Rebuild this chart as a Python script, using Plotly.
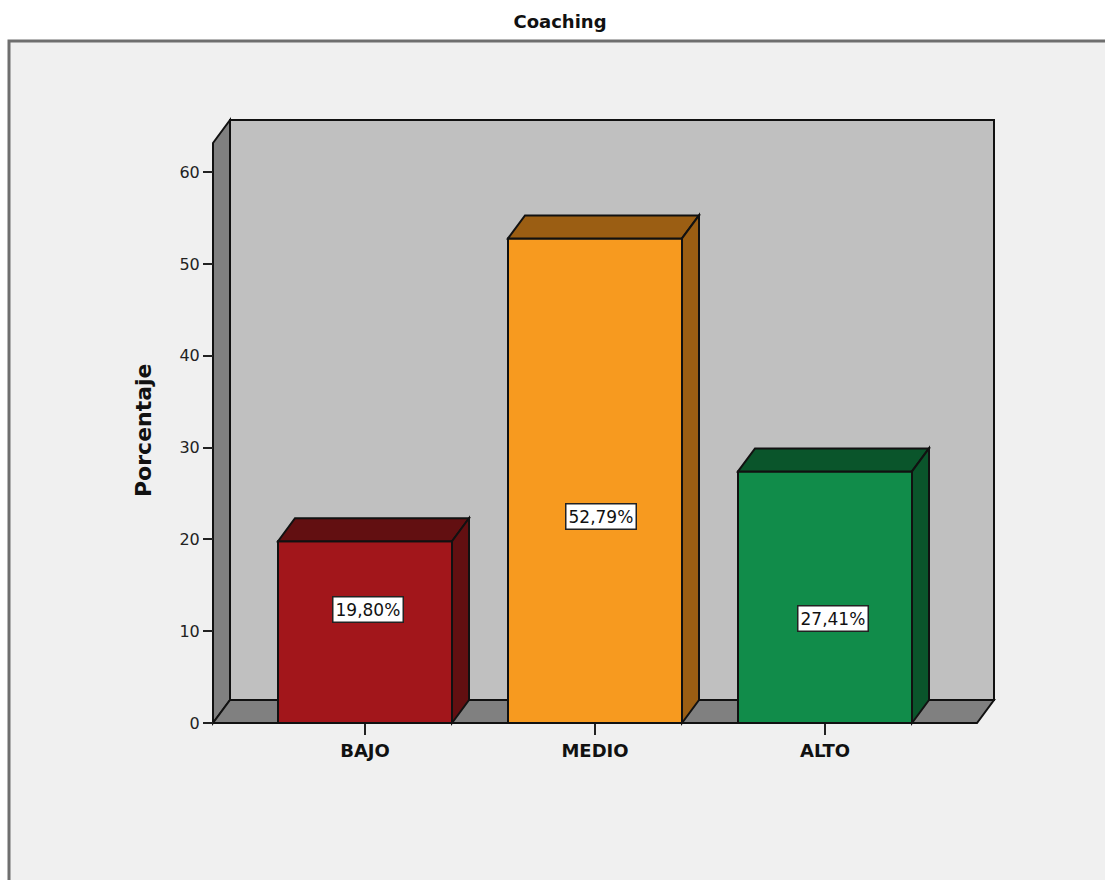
import plotly.graph_objects as go

# Data
categories = ["BAJO", "MEDIO", "ALTO"]
percentages = [19.80, 52.79, 27.41]
front_colors = ["#a2161b", "#f79a1f", "#118c4a"]
side_colors = ["#620f11", "#9b5e13", "#0a552b"]
y_ticks = [0, 10, 20, 30, 40, 50, 60]

# Pixel geometry of the 3D box (figure pixels)
W, H = 1105, 880
PX_X = 230.0          # pixels per category step
PX_Y = 9.18           # pixels per percent
X0_PX, Y0_PX = 365.0, 723.0   # first category centre / zero line
PLOT_L, PLOT_R, PLOT_T, PLOT_B = 200, 1000, 115, 730


def dx(px):
    return (px - X0_PX) / PX_X


def dy(py):
    return (Y0_PX - py) / PX_Y


DEPTH_X = 17 / PX_X
DEPTH_Y = 23 / PX_Y
HALF_W = 87 / PX_X
WALL_L = dx(213)
WALL_R = dx(977)
WALL_TOP = dy(120)

xr = [dx(PLOT_L), dx(PLOT_R)]
yr = [dy(PLOT_B), dy(PLOT_T)]
plot_w = PLOT_R - PLOT_L
plot_h = PLOT_B - PLOT_T


def poly(pts):
    return "M " + " L ".join(f"{x},{y}" for x, y in pts) + " Z"


EDGE = dict(color="#111111", width=2)
shapes = []

# outer frame
shapes.append(dict(
    type="rect", xref="paper", yref="paper", layer="below",
    x0=(9 - PLOT_L) / plot_w, x1=(1120 - PLOT_L) / plot_w,
    y0=(PLOT_B - 900) / plot_h, y1=(PLOT_B - 41) / plot_h,
    fillcolor="#f0f0f0", line=dict(color="#6f6f6f", width=3),
))

# back wall
shapes.append(dict(
    type="path", xref="x", yref="y", layer="below",
    path=poly([(WALL_L + DEPTH_X, DEPTH_Y), (WALL_L + DEPTH_X, WALL_TOP),
               (WALL_R + DEPTH_X, WALL_TOP), (WALL_R + DEPTH_X, DEPTH_Y)]),
    fillcolor="#c0c0c0", line=EDGE,
))
# left wall
shapes.append(dict(
    type="path", xref="x", yref="y", layer="below",
    path=poly([(WALL_L, 0), (WALL_L, WALL_TOP - DEPTH_Y),
               (WALL_L + DEPTH_X, WALL_TOP), (WALL_L + DEPTH_X, DEPTH_Y)]),
    fillcolor="#808080", line=EDGE,
))
# floor
shapes.append(dict(
    type="path", xref="x", yref="y", layer="below",
    path=poly([(WALL_L, 0), (WALL_R, 0),
               (WALL_R + DEPTH_X, DEPTH_Y), (WALL_L + DEPTH_X, DEPTH_Y)]),
    fillcolor="#808080", line=EDGE,
))

# top and side faces of each bar
for i, v in enumerate(percentages):
    x0, x1 = i - HALF_W, i + HALF_W
    shapes.append(dict(
        type="path", xref="x", yref="y", layer="above",
        path=poly([(x0, v), (x0 + DEPTH_X, v + DEPTH_Y),
                   (x1 + DEPTH_X, v + DEPTH_Y), (x1, v)]),
        fillcolor=side_colors[i], line=EDGE,
    ))
    shapes.append(dict(
        type="path", xref="x", yref="y", layer="above",
        path=poly([(x1, 0), (x1, v), (x1 + DEPTH_X, v + DEPTH_Y),
                   (x1 + DEPTH_X, DEPTH_Y)]),
        fillcolor=side_colors[i], line=EDGE,
    ))

fig = go.Figure(go.Bar(
    x=list(range(len(categories))), y=percentages, width=2 * HALF_W,
    marker=dict(color=front_colors, line=EDGE),
    hoverinfo="skip",
))

# value labels
label_px_shift = [3, 6, 8]
label_py = [609, 516, 618]
annotations = []
for i, v in enumerate(percentages):
    annotations.append(dict(
        x=i + label_px_shift[i] / PX_X, y=dy(label_py[i]), xref="x", yref="y",
        text=f"{v:.2f}".replace(".", ",") + "%", showarrow=False,
        font=dict(family="DejaVu Sans", size=17, color="#111111"),
        bgcolor="#ffffff", bordercolor="#222222", borderwidth=1.5, borderpad=2,
        xanchor="center", yanchor="middle",
    ))

# y axis title
annotations.append(dict(
    x=(143 - PLOT_L) / plot_w, y=(PLOT_B - 430) / plot_h,
    xref="paper", yref="paper", text="Porcentaje", textangle=-90,
    showarrow=False, xanchor="center", yanchor="middle",
    font=dict(family="DejaVu Sans", size=22, color="#111111", weight="bold"),
))

fig.update_layout(
    width=W, height=H,
    margin=dict(l=PLOT_L, r=W - PLOT_R, t=PLOT_T, b=H - PLOT_B, pad=0),
    paper_bgcolor="#ffffff", plot_bgcolor="rgba(0,0,0,0)",
    showlegend=False,
    title=dict(
        text="Coaching", x=560 / W, y=1 - 22 / H, xanchor="center", yanchor="middle",
        font=dict(family="DejaVu Sans", size=18, color="#111111", weight="bold"),
    ),
    xaxis=dict(
        range=xr, tickvals=list(range(len(categories))), ticktext=categories,
        ticks="outside", ticklen=11, tickwidth=1.5, tickcolor="#222222",
        showgrid=False, zeroline=False, showline=False,
        anchor="free", position=(PLOT_B - Y0_PX) / plot_h,
        tickfont=dict(family="DejaVu Sans", size=18, color="#111111", weight="bold"),
        fixedrange=True,
    ),
    yaxis=dict(
        range=yr, tickvals=y_ticks, ticks="outside", ticklen=10, tickwidth=1.5,
        tickcolor="#222222", showgrid=False, zeroline=False, showline=False,
        anchor="free", position=(213 - PLOT_L) / plot_w,
        tickfont=dict(family="DejaVu Sans", size=16, color="#222222"),
        fixedrange=True,
    ),
    shapes=shapes,
    annotations=annotations,
)

fig.write_html("out.html")
